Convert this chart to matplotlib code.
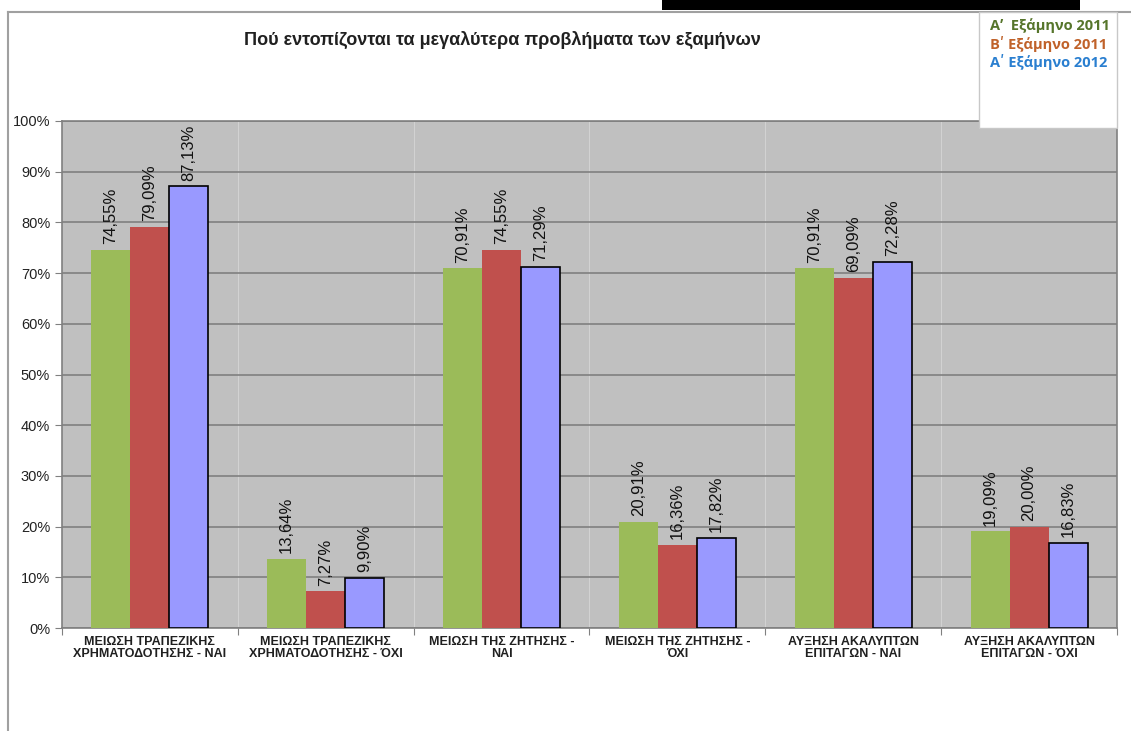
import matplotlib
matplotlib.use('Agg')
import matplotlib.pyplot as plt
import numpy as np

plt.rcParams['font.family'] = ['Liberation Sans', 'DejaVu Sans']

categories = [
    'ΜΕΙΩΣΗ ΤΡΑΠΕΖΙΚΗΣ\nΧΡΗΜΑΤΟΔΟΤΗΣΗΣ - ΝΑΙ',
    'ΜΕΙΩΣΗ ΤΡΑΠΕΖΙΚΗΣ\nΧΡΗΜΑΤΟΔΟΤΗΣΗΣ - ΌΧΙ',
    'ΜΕΙΩΣΗ ΤΗΣ ΖΗΤΗΣΗΣ -\nΝΑΙ',
    'ΜΕΙΩΣΗ ΤΗΣ ΖΗΤΗΣΗΣ -\nΌΧΙ',
    'ΑΥΞΗΣΗ ΑΚΑΛΥΠΤΩΝ\nΕΠΙΤΑΓΩΝ - ΝΑΙ',
    'ΑΥΞΗΣΗ ΑΚΑΛΥΠΤΩΝ\nΕΠΙΤΑΓΩΝ - ΌΧΙ',
]
A2011 = [74.55, 13.64, 70.91, 20.91, 70.91, 19.09]
B2011 = [79.09, 7.27, 74.55, 16.36, 69.09, 20.00]
A2012 = [87.13, 9.90, 71.29, 17.82, 72.28, 16.83]
series_names = ['Α\u02bc  Εξάμηνο 2011', 'Β\u02b9 Εξάμηνο 2011', 'Α\u02b9 Εξάμηνο 2012']
title = 'Πού εντοπίζονται τα μεγαλύτερα προβλήματα των εξαμήνων'

fig = plt.figure(figsize=(11.31, 7.31), dpi=100)
ax = fig.add_axes([62 / 1131, 103 / 731, 1055 / 1131, 507 / 731])
ax.set_facecolor('#C0C0C0')

x = np.arange(len(categories))
width = 0.222
styles = [('#9BBB59', 'none', 0), ('#C0504D', 'none', 0), ('#9999FF', 'black', 1.2)]
for i, (vals, (fc, ec, lw)) in enumerate(zip([A2011, B2011, A2012], styles)):
    pos = x + (i - 1) * width
    ax.bar(pos, vals, width, color=fc, edgecolor=ec, linewidth=lw, zorder=3)
    for p, v in zip(pos, vals):
        ax.text(p, v + 1.1, ('%.2f%%' % v).replace('.', ','), rotation=90,
                ha='center', va='bottom', fontsize=12, color='#111111', zorder=4)

ax.set_xlim(-0.5, len(categories) - 0.5)
ax.set_ylim(0, 100)
ax.set_yticks(np.arange(0, 101, 10))
ax.set_yticklabels(['%d%%' % t for t in range(0, 101, 10)], fontsize=10.5, color='#222222')
ax.yaxis.grid(True, color='#808080', linewidth=1.2, zorder=1)
for b in np.arange(0.5, len(categories) - 0.5):
    ax.axvline(b, color='#D2D2D2', linewidth=0.8, zorder=1)

ax.set_xticks(np.arange(-0.5, len(categories)), minor=False)
ax.set_xticklabels([])
ax.set_xticks(x, minor=True)
ax.set_xticklabels(categories, minor=True, fontsize=9, fontweight='bold', color='#202020',
                   linespacing=1.0)
ax.tick_params(axis='x', which='minor', length=0, pad=6)
ax.tick_params(axis='x', which='major', direction='out', length=5, color='#808080')
ax.tick_params(axis='y', direction='out', length=5, color='#808080')
for s in ax.spines.values():
    s.set_color('#808080')
    s.set_linewidth(1.2)

fig.text(502 / 1131, 1 - 40 / 731, title, ha='center', va='center',
         fontsize=13, fontweight='bold', color='#202020')

# legend box (text only, coloured)
leg = plt.Rectangle((979 / 1131, 1 - 128 / 731), 138 / 1131, 116 / 731,
                    transform=fig.transFigure, facecolor='white', edgecolor='#C8C8C8',
                    linewidth=1.0, zorder=5)
fig.add_artist(leg)
leg_colors = ['#56752B', '#C0622A', '#2A7FD0']
for i, (name, c) in enumerate(zip(series_names, leg_colors)):
    fig.text(990 / 1131, 1 - (26 + i * 18) / 731, name, ha='left', va='center',
             fontsize=10.5, fontweight='bold', color=c, zorder=6,
             family=['Open Sans', 'DejaVu Sans'])

# outer frame and cropped header strip
fig.add_artist(plt.Line2D([8 / 1131, 8 / 1131], [0, 1 - 12 / 731], transform=fig.transFigure,
                          color='#A0A0A0', linewidth=1.5))
fig.add_artist(plt.Line2D([8 / 1131, 1], [1 - 12 / 731, 1 - 12 / 731], transform=fig.transFigure,
                          color='#A0A0A0', linewidth=1.5))
fig.add_artist(plt.Rectangle((662 / 1131, 1 - 10 / 731), 418 / 1131, 10 / 731,
                             transform=fig.transFigure, facecolor='black', edgecolor='none'))

fig.savefig('out.png', dpi=100)
